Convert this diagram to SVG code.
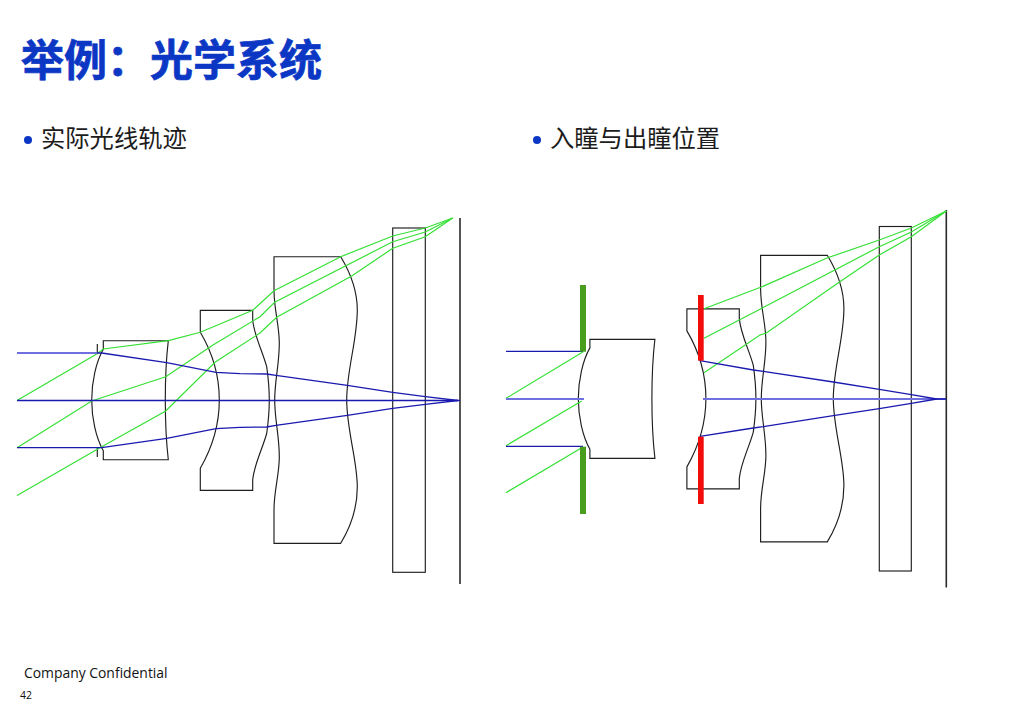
<svg xmlns="http://www.w3.org/2000/svg" xmlns:xlink="http://www.w3.org/1999/xlink" width="1024" height="720" viewBox="0 0 1024 720">
<style>
.cjk{font-family:"Noto Sans CJK SC","Liberation Sans",sans-serif}
.title{font-size:43px;font-weight:700;fill:#0b37c4;stroke:#0b37c4;stroke-width:.7}
.sub{font-size:24.3px;fill:#1c1c1c}
.bul{fill:#0b37c4}
.lens{fill:none;stroke:#1e1e1e;stroke-width:1.15}
.plane{fill:none;stroke:#2a2a2a;stroke-width:1.6}
.g{fill:none;stroke:#35e035;stroke-width:1.2}
.b{fill:none;stroke:#1a1ab0;stroke-width:1.3}
.lb{fill:none;stroke:#6f6fe0;stroke-width:1.9}
.foot{font-family:"Open Sans","Liberation Sans",sans-serif;fill:#111}
</style>
<defs>
<g id="lenses">
<path class="lens" d="M103.3 340.7V349.3C96 362 91.7 382 91.7 400S96 438 103.3 450.7V459.7H168.3C166 440 165.3 420 165.3 400S166 360 168.3 340.7Z"/>
<path class="lens" d="M200.3 310.3V332.3C212 352 219.3 375 219.3 400S212 448 200.3 468.3V490.3H252.7V480C254 465 262 450 266.7 433.5C268.3 422 269.3 412 269.3 400C269.3 388 268.3 378 266.7 366.7C262 350 254 335 252.7 320V310.3Z"/>
<path class="lens" d="M274 256.7V290C274 310 279.3 325 279.3 343C279.3 365 274.7 380 274.7 400C274.7 420 279.3 435 279.3 457C279.3 475 274 490 274 510V543.3H340.7C350 528 357.3 510 357.3 487C357.3 460 346.7 430 346.7 400C346.7 370 357.3 340 357.3 310C357.3 290 350 272 340.7 256.7Z"/>
</g>
</defs>

<text class="cjk title" x="21" y="76">举例：光学系统</text>
<circle class="bul" cx="28" cy="140" r="4"/>
<text class="cjk sub" x="41" y="147">实际光线轨迹</text>
<circle class="bul" cx="537" cy="140" r="4"/>
<text class="cjk sub" x="550" y="147">入瞳与出瞳位置</text>

<use href="#lenses" xlink:href="#lenses"/>
<path class="lens" d="M97.3 344V354M97.3 447V457"/>
<rect class="lens" x="392.7" y="228" width="32.6" height="344.3"/>
<path class="plane" d="M460 218V584"/>
<path class="g" d="M17 400.5L96.7 354L103.3 349L168.3 340.7L200.3 332.3L252.7 310.3L274 290.7L340.7 256.7L392.7 236L425.3 228L452.7 218"/>
<path class="g" d="M17 447.7L91.7 401L165.7 376.7L213 345L260 316.7L274.7 302.3L392.7 241.7L425.3 232L452.7 218"/>
<path class="g" d="M17 495.5L101.7 446.7L165.7 411L215 362.3L260 333L276.7 317.3L351.7 276L392.7 248.3L425.3 236.7L452.7 218"/>
<path class="lb" d="M17 353H97"/>
<path class="b" d="M97 353H101.7L166.7 362.7L216 372.3L240 373.6L266.7 374L276 375.3L347.3 385.3L392.7 392.3L425.3 396.7L458 400.5"/>
<path class="b" d="M17 447.7H101.7L166.7 438.3L216 428.7L240 427.4L266.7 427L276 425.3L347.3 415.3L392.7 408.3L425.3 404.3L458 400.5"/>
<path class="b" d="M17 400.5H460"/>

<use href="#lenses" xlink:href="#lenses" transform="translate(486.6 -1.4)"/>
<rect class="lens" x="879.3" y="226.5" width="32" height="344.5"/>
<path class="plane" d="M946.3 210V587.5"/>
<path class="g" d="M506 398.3L583.3 351.7"/>
<path class="g" d="M506 445.7L581.7 401"/>
<path class="g" d="M506 492.7L581.7 447.7"/>
<path class="g" d="M704 308.7L760.7 287.3L827 258L879.3 240L911.3 228L946.3 211"/>
<path class="g" d="M704 338.3L760 309.3L762.7 307.7L879.3 246.7L911.3 232L946.3 211"/>
<path class="g" d="M704 372.7L760 335L766 333.3L838 283L879.3 255L911.3 236.7L946.3 211"/>
<path class="b" d="M506 351.3H583M506 446.3H583"/>
<path class="lb" d="M506 399H584M703 399H946"/>
<path class="b" d="M700 360.7L753.3 370L763.3 371.3L833.3 382L879.3 389.3L911.3 394.7L936.7 399L946 399"/>
<path class="b" d="M700 436.3L753.3 428L763.3 426.7L833.3 415.7L879.3 408.7L911.3 403.3L936.7 399"/>
<rect x="580" y="285" width="6" height="66.7" fill="#4a9e1e"/>
<rect x="580" y="446.7" width="6" height="67.3" fill="#4a9e1e"/>
<rect x="698" y="295" width="5.7" height="65.7" fill="#f20d0d"/>
<rect x="698" y="436.7" width="5.7" height="67.3" fill="#f20d0d"/>

<text class="foot" x="24" y="678" font-size="13.9">Company Confidential</text>
<text class="foot" x="20" y="699" font-size="10.5">42</text>
</svg>
